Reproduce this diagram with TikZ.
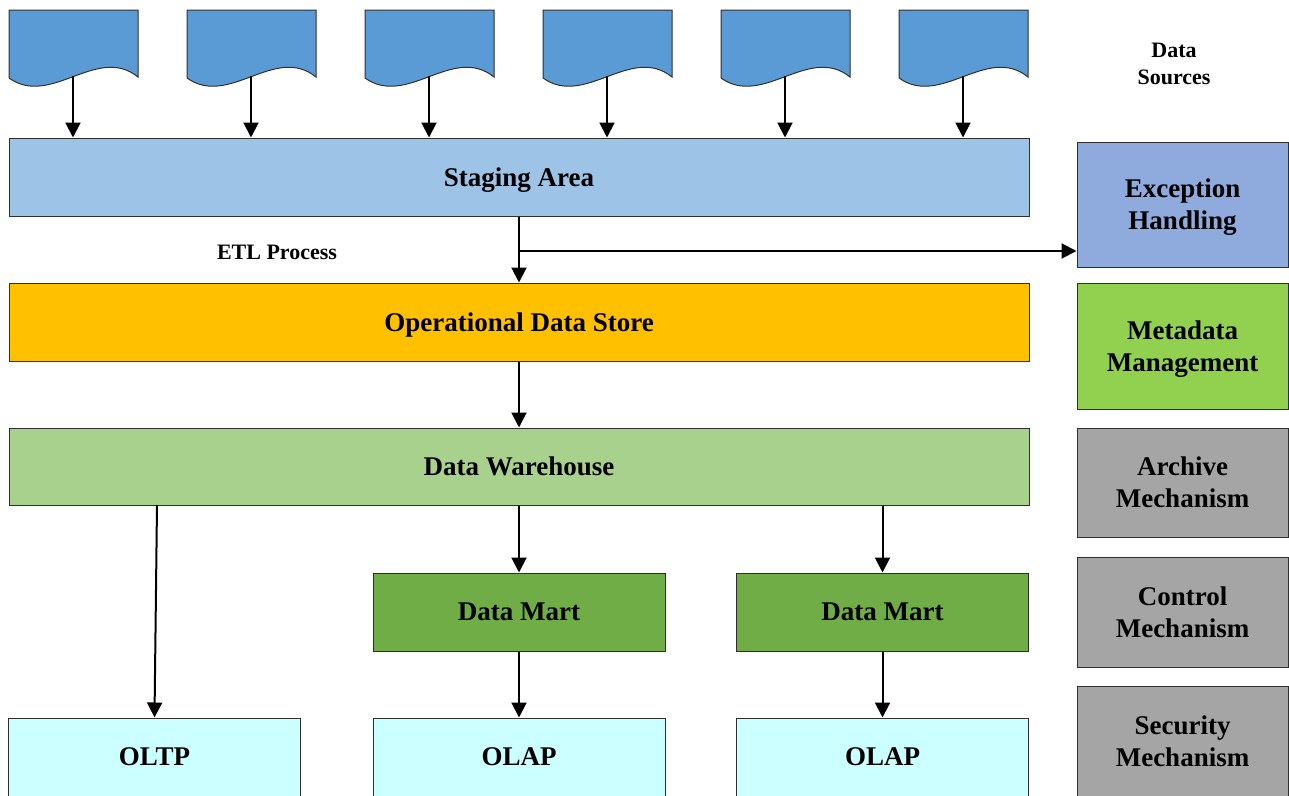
\documentclass[tikz,border=0pt]{standalone}
\usepackage{fontspec}
\setmainfont{Liberation Serif}
\usepackage{xcolor}
\usepackage{tikz}
\usetikzlibrary{calc,arrows.meta,positioning}
\definecolor{srcc}{HTML}{5B9BD5}
\definecolor{stagec}{HTML}{9DC3E6}
\definecolor{odsc}{HTML}{FFC000}
\definecolor{dwc}{HTML}{A9D18E}
\definecolor{martc}{HTML}{70AD47}
\definecolor{appc}{HTML}{CCFFFF}
\definecolor{excc}{HTML}{8FAADC}
\definecolor{metac}{HTML}{92D050}
\definecolor{mechc}{HTML}{A5A5A5}
\definecolor{edgec}{HTML}{2F2F2F}
\tikzset{
  ar/.style={-{Triangle[length=15pt,width=15pt]},line width=2pt,black},
  box/.style={draw=edgec,line width=1pt,inner sep=0pt,align=center,text depth=0pt,font=\bfseries\fontsize{27}{32}\selectfont},
  wide/.style={box,minimum width=1020pt,minimum height=78pt},
  half/.style={box,minimum width=292pt,minimum height=78pt},
  side/.style={box,minimum width=211pt},
  doc/.style={draw=edgec,line width=1pt,fill=srcc},
  lbl/.style={font=\bfseries\fontsize{22}{27}\selectfont,align=center}
}
\begin{document}
\begin{tikzpicture}[x=1pt,y=-1pt]
\path[use as bounding box,clip] (0,0) rectangle (1289,795);
\foreach \i in {0,...,5}{
  \pgfmathsetmacro{\L}{9+178*\i}
  \draw[doc] (\L,78) -- (\L,10) -- (\L+129,10) -- (\L+129,77) .. controls (\L+88,44) and (\L+42,108) .. (\L,78) -- cycle;
  \coordinate (s\i) at (\L+64,76);
}
\node[lbl] (srclbl) at (1174,64) {Data\\Sources};
\node[wide,fill=stagec] (stage) at (519,177) {Staging Area};
\node[lbl] (etl) at (277,252) {ETL Process};
\node[wide,fill=odsc] (ods) at (519,322) {Operational Data Store};
\node[wide,fill=dwc,minimum height=77pt] (dw) at (519,466.5) {Data Warehouse};
\node[half,fill=martc] (dm1) at (519,612) {Data Mart};
\node[half,fill=martc] (dm2) at (882.5,612) {Data Mart};
\node[half,fill=appc] (oltp) at (154.5,757) {OLTP};
\node[half,fill=appc] (olap1) at (519,757) {OLAP};
\node[half,fill=appc] (olap2) at (882.5,757) {OLAP};
\node[side,fill=excc,minimum height=125pt] (exc) at (1182.5,204.5) {Exception\\Handling};
\node[side,fill=metac,minimum height=126pt] (meta) at (1182.5,346) {Metadata\\Management};
\node[side,fill=mechc,minimum height=109pt] (arch) at (1182.5,482.5) {Archive\\Mechanism};
\node[side,fill=mechc,minimum height=110pt] (ctrl) at (1182.5,612) {Control\\Mechanism};
\node[side,fill=mechc,minimum height=110pt] (sec) at (1182.5,741) {Security\\Mechanism};
\foreach \i in {0,...,5}{\draw[ar] (s\i) -- (s\i |- stage.north);}
\coordinate (split) at (519,251); \coordinate (dwleft) at (157,505);
\draw[ar] (stage.south) -- (ods.north);
\draw[ar] (split) -- (split -| exc.west);
\draw[ar] (ods.south) -- (dw.south |- dw.north);
\draw[ar] (dwleft) -- (oltp.north);
\draw[ar] (dm1 |- dw.south) -- (dm1.north);
\draw[ar] (dm2 |- dw.south) -- (dm2.north);
\draw[ar] (dm1.south) -- (olap1.north);
\draw[ar] (dm2.south) -- (olap2.north);
\end{tikzpicture}
\end{document}
